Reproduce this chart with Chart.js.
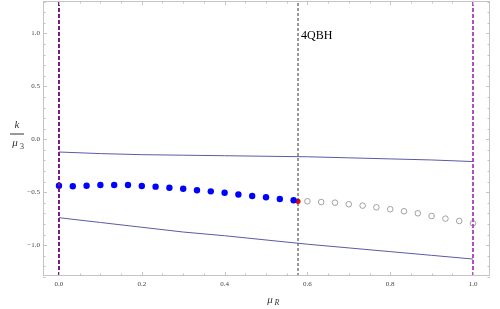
<!DOCTYPE html>
<html>
<head>
<meta charset="utf-8">
<script src="https://cdn.jsdelivr.net/npm/chart.js@4/dist/chart.umd.min.js"></script>
<style>
	body { margin: 0; background: #fff; }
	#wrap { width: 500px; height: 309px; }
</style>
</head>
<body>
<div id="wrap"><canvas id="chart" width="500" height="309"></canvas></div>
<script>
// upper and lower bounding curves
const curve_x = [0, 0.1, 0.2, 0.3, 0.4, 0.5, 0.6, 0.7, 0.8, 0.9, 1.0]
const upper_y = [-0.12, -0.135, -0.145, -0.15, -0.155, -0.16, -0.165, -0.175, -0.185, -0.195, -0.21]
const lower_y = [-0.74, -0.785, -0.83, -0.875, -0.91, -0.95, -0.99, -1.025, -1.06, -1.095, -1.13]

// filled points, mu = 0 .. 17/30
const blue_x = [0, 1/30, 2/30, 3/30, 4/30, 5/30, 6/30, 7/30, 8/30, 9/30, 10/30, 11/30, 12/30, 13/30, 14/30, 15/30, 16/30, 17/30]
const blue_y = [-0.438, -0.443, -0.438, -0.431, -0.431, -0.431, -0.441, -0.447, -0.457, -0.466, -0.481, -0.491, -0.504, -0.521, -0.535, -0.547, -0.563, -0.575]

// transition point
const red_x = [1 / Math.sqrt(3)]
const red_y = [-0.585]

// open points, mu = 18/30 .. 1
const open_x = [18/30, 19/30, 20/30, 21/30, 22/30, 23/30, 24/30, 25/30, 26/30, 27/30, 28/30, 29/30, 30/30]
const open_y = [-0.585, -0.592, -0.598, -0.613, -0.626, -0.642, -0.660, -0.679, -0.698, -0.724, -0.749, -0.771, -0.792]

const x_ticks = [0, 0.2, 0.4, 0.6, 0.8, 1.0]
const y_ticks = [-1.0, -0.5, 0, 0.5, 1.0]
const x_range = [-0.0386, 1.041]
const y_range = [-1.29, 1.305]

const qbh_x = 1 / Math.sqrt(3)
const qbh_label = '4QBH'

function pts(xs, ys) {
	return xs.map((x, i) => ({x: x, y: ys[i]}))
}

function vline(x) {
	return [{x: x, y: y_range[0]}, {x: x, y: y_range[1]}]
}

const fmt = v => (v < 0 ? '\u2212' : '') + Math.abs(v).toFixed(1)

const frame_plugin = {
	id: 'frame',
	afterDraw(chart) {
		const ctx = chart.ctx
		const a = chart.chartArea
		const xs = chart.scales.x
		const ys = chart.scales.y
		ctx.save()
		ctx.strokeStyle = '#c4c4c4'
		ctx.lineWidth = 1
		ctx.strokeRect(a.left + 0.5, a.top + 0.5, a.right - a.left - 1, a.bottom - a.top - 1)
		ctx.beginPath()
		for (let i = 0; i <= 22; i++) {
			const v = -0.05 + i * 0.05
			if (v < x_range[0] || v > x_range[1]) continue
			const px = Math.round(xs.getPixelForValue(v)) + 0.5
			const len = (i % 4 == 1) ? 4 : 2.5
			ctx.moveTo(px, a.bottom); ctx.lineTo(px, a.bottom - len)
			ctx.moveTo(px, a.top); ctx.lineTo(px, a.top + len)
		}
		for (let i = -13; i <= 13; i++) {
			const v = i / 10
			const py = Math.round(ys.getPixelForValue(v)) + 0.5
			const len = (i % 5 == 0) ? 4 : 2.5
			ctx.moveTo(a.left, py); ctx.lineTo(a.left + len, py)
			ctx.moveTo(a.right, py); ctx.lineTo(a.right - len, py)
		}
		ctx.stroke()

		// labels
		ctx.fillStyle = '#000'
		ctx.font = '12px "Liberation Serif"'
		ctx.textBaseline = 'middle'
		ctx.fillText(qbh_label, xs.getPixelForValue(qbh_x) + 3, ys.getPixelForValue(0.98))

		ctx.fillStyle = '#333'
		ctx.font = 'italic 11px "Liberation Serif"'
		ctx.textAlign = 'center'
		ctx.fillText('k', 17, 125)
		ctx.fillRect(10, 133.5, 14, 1)
		ctx.fillText('\u03bc', 15, 143)
		ctx.font = '8px "Liberation Serif"'
		ctx.fillText('3', 22, 147)

		ctx.font = 'italic 11px "Liberation Serif"'
		ctx.fillText('\u03bc', 270, 300)
		ctx.font = 'italic 8px "Liberation Serif"'
		ctx.fillText('R', 277, 303)
		ctx.restore()
	}
}

const line_style = {showLine: true, pointRadius: 0, borderWidth: 1, borderColor: '#5a5aa6', fill: false}

const chart = new Chart(document.getElementById('chart'), {
	type: 'scatter',
	data: {
		datasets: [
			Object.assign({data: pts(curve_x, upper_y)}, line_style),
			Object.assign({data: pts(curve_x, lower_y)}, line_style),
			{data: vline(qbh_x), showLine: true, pointRadius: 0, borderWidth: 1, borderColor: '#333', borderDash: [3, 2]},
			{data: vline(0), showLine: true, pointRadius: 0, borderWidth: 2, borderColor: '#7a1a80', borderDash: [4, 2]},
			{data: vline(1), showLine: true, pointRadius: 0, borderWidth: 2, borderColor: '#b24cc4', borderDash: [4, 2]},
			{data: pts(open_x, open_y), pointRadius: 2.8, borderWidth: 0.8, borderColor: '#8a8a8a', backgroundColor: '#fff'},
			{data: pts(blue_x, blue_y), pointRadius: 3.2, borderWidth: 0, backgroundColor: '#0000ff'},
			{data: pts(red_x, red_y), pointRadius: 2.6, borderWidth: 0, backgroundColor: '#ff0000'}
		]
	},
	options: {
		responsive: false,
		animation: false,
		layout: {autoPadding: false, padding: {top: 1, right: 10, left: 0, bottom: 0}},
		plugins: {legend: {display: false}, tooltip: {enabled: false}},
		scales: {
			x: {
				type: 'linear',
				min: x_range[0],
				max: x_range[1],
				afterFit: s => { s.height = 33; s.paddingLeft = 0; s.paddingRight = 0 },
				afterBuildTicks: s => { s.ticks = x_ticks.map(v => ({value: v})) },
				grid: {display: false, drawTicks: false},
				border: {display: false},
				ticks: {padding: 4, color: '#444', font: {family: 'Liberation Serif', size: 7}, maxRotation: 0, callback: fmt}
			},
			y: {
				type: 'linear',
				min: y_range[0],
				max: y_range[1],
				afterFit: s => { s.width = 43; s.paddingTop = 0; s.paddingBottom = 0 },
				afterBuildTicks: s => { s.ticks = y_ticks.map(v => ({value: v})) },
				grid: {display: false, drawTicks: false},
				border: {display: false},
				ticks: {padding: 3, color: '#444', font: {family: 'Liberation Serif', size: 7}, callback: fmt}
			}
		}
	},
	plugins: [frame_plugin]
})
</script>
</body>
</html>
